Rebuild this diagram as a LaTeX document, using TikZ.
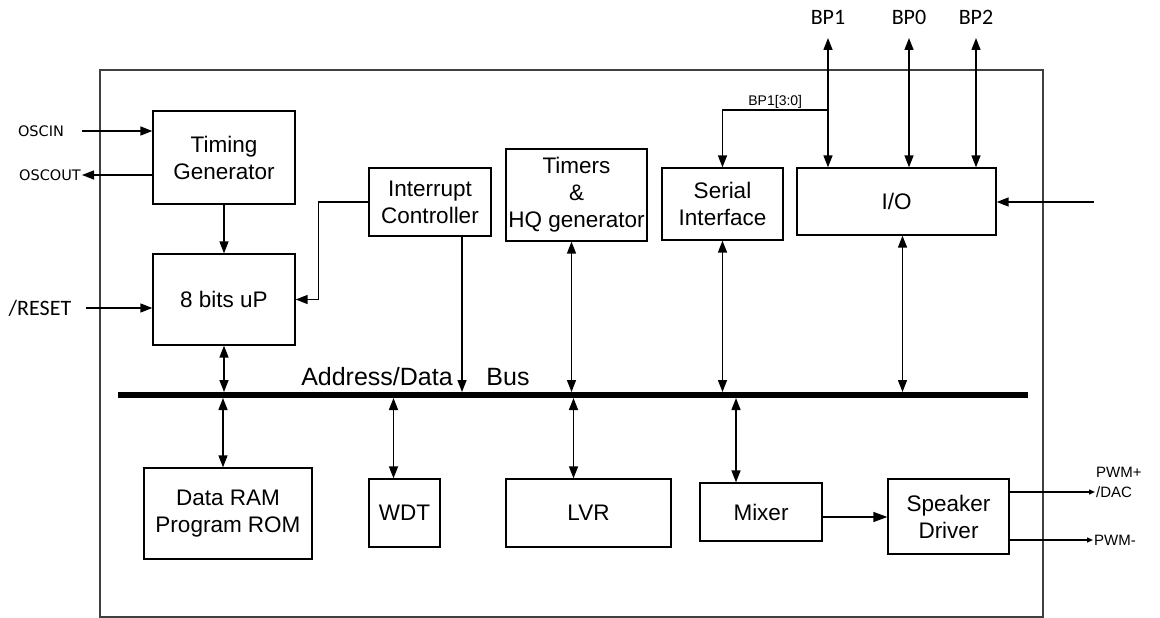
\documentclass[tikz,border=0pt]{standalone}
\usepackage{fontspec}
\setmainfont{Liberation Sans}
\newfontfamily\pinfont{Carlito}
\newfontfamily\oscfont{DejaVu Sans}
\usetikzlibrary{arrows.meta}
\newcommand*{\busTop}{392}
\newcommand*{\busBot}{398}
\newcommand*{\busY}{395}

\begin{document}
\begin{tikzpicture}[x=1pt, y=-1pt, >={Triangle[length=12pt,width=9pt]},
	blk/.style={draw, line width=1.3pt, align=center, inner sep=0pt, font=\fontsize{22.5}{27}\selectfont},
	wire/.style={draw, line width=1.4pt},
	pinlbl/.style={inner sep=1pt, font=\pinfont\fontsize{22}{24}\selectfont},
	osclbl/.style={inner sep=1pt, font=\oscfont\fontsize{14.5}{16}\selectfont},
	smalllbl/.style={inner sep=1pt, font=\fontsize{15}{20}\selectfont},
	buslbl/.style={inner sep=0pt, font=\fontsize{25}{28}\selectfont}]
	\useasboundingbox (0,0) rectangle (1160,618);
	% chip outline and bus
	\path [draw, line width=1.5pt, color=black!75] (100,70) rectangle (1043,617);
	\coordinate (busL) at (118,\busY);
	\coordinate (busR) at (1028,\busY);
	\coordinate (busT) at (0,\busTop);
	\coordinate (busB) at (0,\busBot);
	\path [draw, line width=6pt] (busL) -- (busR);
	\node [buslbl] (addr) at (377,377) {Address/Data};
	\node [buslbl] (busname) at (508,377) {Bus};
	% blocks
	\node [blk, minimum width=142pt, minimum height=93pt] (timing) at (224,157.5) {Timing\\Generator};
	\node [blk, minimum width=142pt, minimum height=91pt] (cpu) at (224,299.5) {8 bits uP};
	\node [blk, minimum width=122pt, minimum height=68pt] (intc) at (430,202) {Interrupt\\Controller};
	\node [blk, minimum width=141pt, minimum height=92pt] (timers) at (576.5,195) {Timers\\\&\\HQ generator};
	\node [blk, minimum width=121pt, minimum height=72pt] (serial) at (722.5,204) {Serial\\Interface};
	\node [blk, minimum width=199pt, minimum height=67pt] (io) at (896.5,201.5) {I/O};
	\node [blk, minimum width=168pt, minimum height=91pt] (mem) at (228,513.5) {Data RAM\\Program ROM};
	\node [blk, minimum width=71pt, minimum height=68pt] (wdt) at (404.5,513) {WDT};
	\node [blk, minimum width=165pt, minimum height=68pt] (lvr) at (588.5,513) {LVR};
	\node [blk, minimum width=122pt, minimum height=58pt] (mixer) at (761,512) {Mixer};
	\node [blk, minimum width=121pt, minimum height=75pt] (spk) at (948.5,516.5) {Speaker\\Driver};
	% clock and reset
	\node [osclbl] (oscin) at (41,131) {OSCIN};
	\node [osclbl, anchor=east] (oscout) at (82,175) {OSCOUT};
	\node [pinlbl] (reset) at (40,308) {/RESET};
	\coordinate (oscinEnd) at (82,131);
	\coordinate (resetEnd) at (86,308);
	\path [wire, ->] (oscinEnd) -- (oscinEnd -| timing.west);
	\path [wire, ->] (oscout -| timing.west) -- (oscout.east);
	\path [wire, ->] (resetEnd) -- (resetEnd -| cpu.west);
	\path [wire, ->] (timing.south) -- (cpu.north);
	\path [wire, ->] (intc.west) -- ++(-50,0) |- (cpu.east);
	% to and from the bus
	\coordinate (intcOut) at ([xshift=32pt]intc.south);
	\coordinate (ioOut) at ([xshift=6pt]io.south);
	\coordinate (memIn) at ([xshift=-5pt]mem.north);
	\coordinate (wdtIn) at ([xshift=-11pt]wdt.north);
	\coordinate (lvrIn) at ([xshift=-15pt]lvr.north);
	\coordinate (mixIn) at ([xshift=-25pt]mixer.north);
	\path [wire, <->] (cpu.south) -- (cpu.south |- busT);
	\path [wire, ->] (intcOut) -- (intcOut |- busT);
	\path [wire, <->] ([xshift=-5pt]timers.south) -- ([xshift=-5pt]timers.south |- busT);
	\path [wire, <->] (serial.south) -- (serial.south |- busT);
	\path [wire, <->] (ioOut) -- (ioOut |- busT);
	\path [wire, <->] (memIn |- busB) -- (memIn);
	\path [wire, <->] (wdtIn |- busB) -- (wdtIn);
	\path [wire, <->] (lvrIn |- busB) -- (lvrIn);
	\path [wire, <->] (mixIn |- busB) -- (mixIn);
	% port pins
	\node [pinlbl] (bp1) at (828,17) {BP1};
	\node [pinlbl] (bp0) at (909,17) {BP0};
	\node [pinlbl] (bp2) at (976,17) {BP2};
	\coordinate (bp1top) at (828,38);
	\coordinate (bp0top) at (909,38);
	\coordinate (bp2top) at (976,38);
	\path [wire, <->] (bp1top) -- (bp1top |- io.north);
	\path [wire, <->] (bp0top) -- (bp0top |- io.north);
	\path [wire, <->] (bp2top) -- (bp2top |- io.north);
	\coordinate (tap) at (828,110);
	\path [wire, ->] (tap) -- node [smalllbl, above, font=\fontsize{14}{16}\selectfont] {BP1[3:0]} (tap -| serial.north) -- (serial.north);
	\coordinate (ioIn) at (1094,202);
	\path [wire, ->] (ioIn) -- (ioIn -| io.east);
	% audio path
	\coordinate (mixOut) at ([yshift=-5pt]mixer.east);
	\path [wire, -{Triangle[length=14pt,width=10pt]}] (mixOut) -- (mixOut -| spk.west);
	\node [smalllbl, anchor=west, align=left] (pwmp) at (1095,482) {PWM+\\/DAC};
	\node [smalllbl, anchor=west] (pwmm) at (1093,540) {PWM-};
	\coordinate (spkP) at ([yshift=24.5pt]spk.east);
	\coordinate (spkM) at ([yshift=-23.5pt]spk.east);
	\path [wire, -{Triangle[length=6pt,width=5pt]}] (spkP) -- (spkP -| pwmp.west);
	\path [wire, -{Triangle[length=6pt,width=5pt]}] (spkM) -- (spkM -| pwmm.west);
\end{tikzpicture}
\end{document}
